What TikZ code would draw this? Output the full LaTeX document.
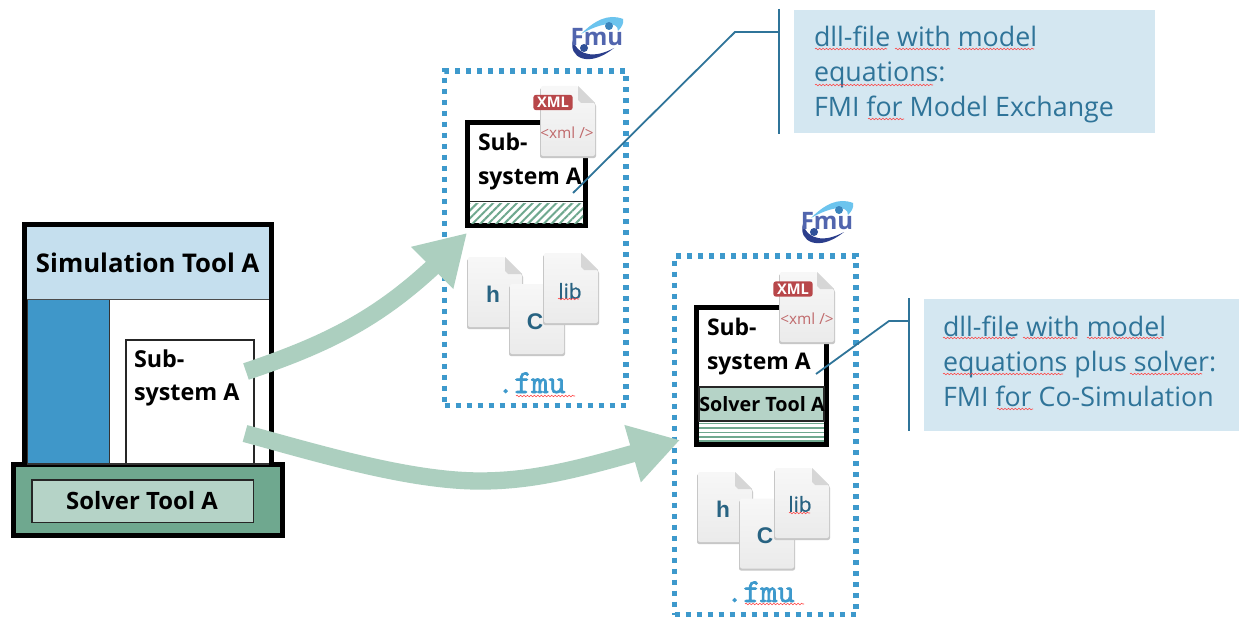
\documentclass[tikz,border=0pt]{standalone}
\usepackage{fontspec}
\setmainfont{Open Sans}
\newfontfamily\arialfnt{Liberation Sans}
\newfontfamily\libfnt[FakeBold=0.8]{Open Sans}
\newfontfamily\slabfnt[FakeBold=2]{Latin Modern Mono}
\usetikzlibrary{arrows.meta,patterns.meta,decorations.pathmorphing,bending,calc}
\definecolor{hdr}{HTML}{C5DFEE}
\definecolor{blk}{HTML}{3F97C9}
\definecolor{slvD}{HTML}{6FA88F}
\definecolor{slvL}{HTML}{B5D3C7}
\definecolor{flow}{HTML}{ACCFBF}
\definecolor{dots}{HTML}{3D99CC}
\definecolor{call}{HTML}{D4E7F1}
\definecolor{lead}{HTML}{2F7499}
\definecolor{xmlr}{HTML}{B8474A}
\definecolor{xmlt}{HTML}{C06A6C}
\definecolor{navy}{HTML}{2B3E8C}
\definecolor{slate}{HTML}{5165AE}
\definecolor{cyn}{HTML}{6CC4EE}
\tikzset{
  x=0.75pt,y=-0.75pt,
  every node/.style={inner sep=0pt,outer sep=0pt},
  pxbox/.style={rectangle,anchor=north west},
  heavy/.style={draw=black,line width=3.75pt},
  thinb/.style={draw=black!85,line width=1.1pt},
  dotted box/.style={draw=dots,line width=4pt,dash pattern=on 4pt off 4.25pt},
  flowarrow/.style={draw=flow,line width=13pt,-{Triangle[length=37pt,width=42pt,flex=1]}},
  leader/.style={draw=lead,line width=1.35pt},
  calltext/.style={text=lead,font=\fontsize{20.1}{26}\selectfont,anchor=base west},
  boldtext/.style={font=\bfseries\fontsize{17.2}{20}\selectfont,anchor=base west},
  spell/.style={draw=red!75!white,line width=0.4pt,decorate,decoration={snake,amplitude=0.6pt,segment length=2.6pt}},
  filetext/.style={text=lead!85!black,font=\arialfnt\bfseries\fontsize{17}{18}\selectfont},
  libtext/.style={text=lead!85!black,font=\libfnt\fontsize{15.5}{18}\selectfont},
  fmutext/.style={text=dots,font=\slabfnt\fontsize{25}{28}\selectfont,anchor=base west},
  xmlbadge/.style={rectangle,rounded corners=2pt,fill=xmlr,text=white,font=\bfseries\fontsize{11}{12}\selectfont,minimum width=29.5pt,minimum height=11.5pt},
  xmlcode/.style={text=xmlt,font=\fontsize{11.5}{12}\selectfont},
  logotext/.style={text=slate,font=\bfseries\fontsize{18}{18}\selectfont},
  docicon/.pic={
    \fill[black!22,rounded corners=1.5pt] (-1,2) -- (-1,72) -- (55,72) -- (55,18) -- (38,2) -- cycle;
    \shade[top color=black!3,bottom color=black!8,rounded corners=1.5pt] (0,0) -- (37,0) -- (54,17) -- (54,70) -- (0,70) -- cycle;
    \fill[black!16] (37,0) -- (54,17) -- (40,17) -- (37,14) -- cycle;
  },
  fmulogo/.pic={
    \fill[cyn] (-15,-5) .. controls (-2,-18) and (12,-26) .. (27,-20) .. controls (28,-16) and (26,-12) .. (22,-8) .. controls (22,-18) and (6,-17) .. (-15,-5) -- cycle;
    \fill[navy] (-23,1) .. controls (-28,18) and (-8,30) .. (18,9) .. controls (0,19) and (-18,18) .. (-23,1) -- cycle;
    \fill[navy!80!blk] (-12,9) circle (4);
    \fill[blk!80!navy] (13,-13) circle (4);
  },
}
\begin{document}
\begin{tikzpicture}
\useasboundingbox (0,0) rectangle (1239,617);
\fill[white] (0,0) rectangle (1239,617);

% solver base of the left tool
\node[pxbox,heavy,fill=slvD,minimum width=201.75pt,minimum height=53.6pt] (slv) at (13.5,464) {};
\node[pxbox,thinb,fill=slvL,minimum width=166pt,minimum height=32pt] (slvin) at (32,480) {};

% left tool
\node[pxbox,fill=white,minimum width=185.25pt,minimum height=180pt] (tool) at (24.5,224.5) {};
\node[pxbox,fill=hdr,minimum width=181.5pt,minimum height=54pt] (hdrbox) at (27,227) {};
\node[pxbox,fill=blk,draw=black!80,line width=0.6pt,minimum width=61.5pt,minimum height=123.75pt] (blkbox) at (27,299) {};
\draw[black!70,line width=0.7pt] (hdrbox.south west) -- (hdrbox.south east);
\node[pxbox,thinb,fill=white,minimum width=96pt,minimum height=93pt] (sub) at (126,340) {};
\draw[heavy,line cap=butt] (tool.south west) -- (tool.north west) -- (tool.north east) -- (tool.south east);
\draw[black!80,line width=0.8pt] (27,464) -- (269,464);
\node[boldtext,font=\bfseries\fontsize{19.3}{20}\selectfont] (t1) at (36,272) {Simulation Tool A};
\node[boldtext,font=\bfseries\fontsize{17.5}{20}\selectfont] (t2) at (134,367) {Sub-};
\node[boldtext,font=\bfseries\fontsize{17.5}{20}\selectfont] (t3) at (134,400) {system A};
\node[boldtext,font=\bfseries\fontsize{17.9}{20}\selectfont,anchor=base] (t4) at (142,509) {Solver Tool A};

% FMU 1
\node[pxbox,dotted box,minimum width=136pt,minimum height=251pt] (fmuA) at (444.7,71) {};
\node[pxbox,heavy,fill=white,minimum width=88.5pt,minimum height=77.25pt] (subA) at (467.5,122.5) {};
\path[pattern={Lines[angle=45,distance=4.2pt,line width=1.5pt]},pattern color=slvD] (470,203) rectangle (583,223);
\draw[black!85,line width=0.8pt] (470,201.5) -- (583,201.5);
\node[boldtext] (t5) at (478,150) {Sub-};
\node[boldtext] (t6) at (478,184.5) {system A};
\pic at (541,86) {docicon};
\node[xmlbadge] (x1) at (553,102.5) {XML};
\node[xmlcode] (x2) at (567,133) {<xml />};
\pic at (596,39) {fmulogo};
\node[logotext] (l1) at (597,37) {Fmu};
\pic at (468,257) {docicon};
\pic at (510,284) {docicon};
\pic at (544,253) {docicon};
\node[filetext] (h1) at (493,294) {h};
\node[filetext] (c1) at (535,322) {C};
\node[libtext] (lb1) at (570,291) {lib};
\node[fmutext] (f1) at (497,393) {.fmu};

% FMU 2
\node[pxbox,dotted box,minimum width=136pt,minimum height=269pt] (fmuB) at (674.7,256) {};
\node[pxbox,heavy,fill=white,minimum width=97.5pt,minimum height=102.5pt] (subB) at (696.5,307.5) {};
\path[fill=slvL,draw=black!85,line width=0.8pt] (699,387) rectangle (824,421);
\foreach \yy in {423.5,428,432.5,437,441}{\draw[slvD,line width=1.1pt] (699,\yy) -- (824,\yy);}
\node[boldtext] (t7) at (707,335.5) {Sub-};
\node[boldtext] (t8) at (707,369.5) {system A};
\node[boldtext,font=\bfseries\fontsize{14.8}{18}\selectfont,anchor=base] (t9) at (762,411) {Solver Tool A};
\pic at (780,272) {docicon};
\node[xmlbadge] (x3) at (793,289) {XML};
\node[xmlcode] (x4) at (807,319) {<xml />};
\pic at (826,223) {fmulogo};
\node[logotext] (l2) at (827,221) {Fmu};
\pic at (698,472) {docicon};
\pic at (740,498.5) {docicon};
\pic at (775,468) {docicon};
\node[filetext] (h2) at (723,509) {h};
\node[filetext] (c2) at (765,536) {C};
\node[libtext] (lb2) at (800,504) {lib};
\node[fmutext] (f2) at (726,602) {.fmu};

% flow arrows
\coordinate (a1s) at (246,371.5);
\coordinate (a1e) at (467,233);
\coordinate (a2s) at (245,433.5);
\coordinate (a2m) at (480,481);
\coordinate (a2e) at (680,440);
\draw[flowarrow] (a1s) .. controls (340,340) and (395,310) .. (a1e);
\draw[flowarrow] (a2s) .. controls (320,454) and (410,481) .. (a2m) .. controls (540,481) and (590,466) .. (a2e);

% callouts
\node[pxbox,fill=call,minimum width=270.75pt,minimum height=92.25pt] (c1box) at (794,10) {};
\node[pxbox,fill=call,minimum width=236.25pt,minimum height=99pt] (c2box) at (924,299) {};
\coordinate (k1a) at (779,9);
\coordinate (k1z) at (779,134);
\coordinate (k1) at (779,32);
\coordinate (k1b) at (735,32);
\coordinate (k1e) at (573,193);
\coordinate (k2a) at (909,298);
\coordinate (k2z) at (909,431);
\coordinate (k2) at (909,321);
\coordinate (k2b) at (889,321);
\coordinate (k2e) at (816,374);
\draw[leader] (k1a) -- (k1z);
\draw[leader] (k2a) -- (k2z);
\draw[leader] (k1) -- (k1b) -- (k1e);
\draw[leader] (k2) -- (k2b) -- (k2e);
\node[calltext] (d1) at (814,47) {dll-file with model};
\node[calltext] (d2) at (814,82) {equations:};
\node[calltext] (d3) at (814,117) {FMI for Model Exchange};
\node[calltext] (e1) at (943,336) {dll-file with model};
\node[calltext] (e2) at (943,371) {equations plus solver:};
\node[calltext] (e3) at (943,406) {FMI for Co-Simulation};

% spell-check squiggles
\foreach \a/\b/\y in {815/887/49,895/950/49,958/1034/49,815/933/85,868/904/119,
  943/1015/338,1023/1077/338,1087/1163/338,943/1063/374,1130/1202/374,997/1033/409,
  558/579/299,789/810/513,516/575/396,745/804/604}{
  \draw[spell] (\a,\y) -- (\b,\y);
}
\end{tikzpicture}
\end{document}
